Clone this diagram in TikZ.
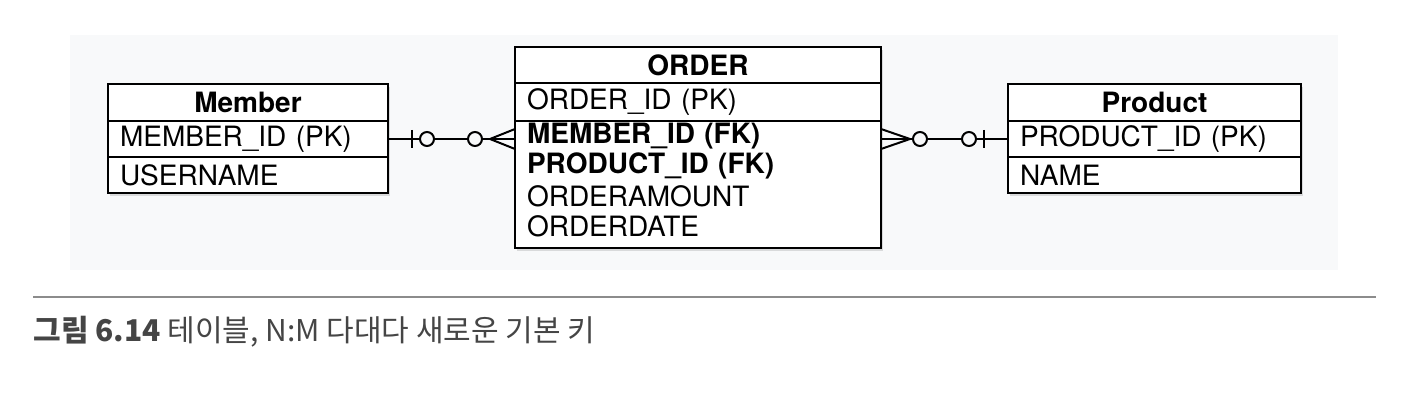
\documentclass[tikz,border=0pt]{standalone}
\usepackage{fontspec}
\setmainfont{TeX Gyre Heros}
\newfontfamily\cjk{Noto Sans CJK KR}
\usetikzlibrary{positioning, shadows}
\definecolor{panel_gray}{HTML}{F8F9FA}
\definecolor{caption_gray}{HTML}{454545}
\definecolor{rule_gray}{HTML}{8C8C8C}

\begin{document}
\begin{tikzpicture}[x=0.5pt, y=-0.5pt]
	\tikzset{
		box/.style={draw, line width=1.3pt, fill=white, outer sep=0pt, inner xsep=6pt, inner ysep=0pt,
			drop shadow={opacity=0.25, shadow xshift=1pt, shadow yshift=-1.5pt}}, % every table cell
		head/.style={box, text width=#1, align=center, minimum height=18.5pt, font=\fontsize{14}{15}\selectfont\bfseries}, % table name
		field/.style={box, text width=#1, align=left, minimum height=18pt, font=\fontsize{14}{15}\selectfont}, % one column per cell
		attr/.style={text width=171pt, align=left, inner xsep=6pt, inner ysep=0pt, outer sep=0pt, minimum height=15pt, font=\fontsize{14}{15}\selectfont}, % ORDER columns
		link/.style={line width=1pt}, % relation lines
		ring/.style={draw, line width=1pt, fill=panel_gray}, % the optional circles
	}
	\tikzstyle{fk} = [font=\fontsize{14}{15}\selectfont\bfseries]
	\useasboundingbox (0,0) rectangle (1424,416);
	\fill[panel_gray] (70,35) rectangle (1338,270);

	% Member
	\node[head=128pt] (member) at (248,102.5) {Member};
	\node[field=128pt, below=0pt of member] (memberpk) {MEMBER\_ID (PK)};
	\node[field=128pt, below=0pt of memberpk] (membername) {USERNAME};

	% ORDER
	\node[head=171pt, minimum height=18pt] (order) at (698,65) {ORDER};
	\node[field=171pt, minimum height=19pt, below=0pt of order] (orderpk) {ORDER\_ID (PK)};
	\node[box, minimum width=183pt, minimum height=63.5pt, below=0pt of orderpk] (orderattr) {};
	\node[attr, fk, anchor=north west] (fkmember) at (orderattr.north west) {MEMBER\_ID (FK)};
	\node[attr, fk, below=0pt of fkmember] (fkproduct) {PRODUCT\_ID (FK)};
	\node[attr, below=0pt of fkproduct] (amount) {ORDERAMOUNT};
	\node[attr, below=0pt of amount] (date) {ORDERDATE};

	% Product
	\node[head=134.5pt] (product) at (1154.5,102.5) {Product};
	\node[field=134.5pt, below=0pt of product] (productpk) {PRODUCT\_ID (PK)};
	\node[field=134.5pt, below=0pt of productpk] (productname) {NAME};

	% relations
	\coordinate (mfoot) at (memberpk.east -| fkmember.west);
	\coordinate (pfoot) at (productpk.west -| fkmember.east);
	\draw[link] (memberpk.east) -- (mfoot);
	\draw[link] (pfoot) -- (productpk.west);
	\draw[link] ([xshift=12pt]memberpk.east) ++(0pt,4.5pt) -- ++(0pt,-9pt);
	\draw[ring] ([xshift=19.5pt]memberpk.east) circle (3.5pt);
	\draw[ring] ([xshift=-20pt]mfoot) circle (3.5pt);
	\draw[link] ([yshift=5pt]mfoot) -- ([xshift=-12.5pt]mfoot) -- ([yshift=-5pt]mfoot);
	\draw[link] ([yshift=5pt]pfoot) -- ([xshift=14.5pt]pfoot) -- ([yshift=-5pt]pfoot);
	\draw[ring] ([xshift=19.5pt]pfoot) circle (3.5pt);
	\draw[ring] ([xshift=-19.5pt]productpk.west) circle (3.5pt);
	\draw[link] ([xshift=-12pt]productpk.west) ++(0pt,4.5pt) -- ++(0pt,-9pt);

	% caption
	\draw[rule_gray, line width=1pt] (33,297) -- (1376,297);
	\node[anchor=base west, inner sep=0pt, text=caption_gray, font=\cjk\fontsize{15}{17}\selectfont] (caption) at (33,342)
		{{\bfseries 그림 6.14} 테이블, N:M 다대다 새로운 기본 키};
\end{tikzpicture}
\end{document}
